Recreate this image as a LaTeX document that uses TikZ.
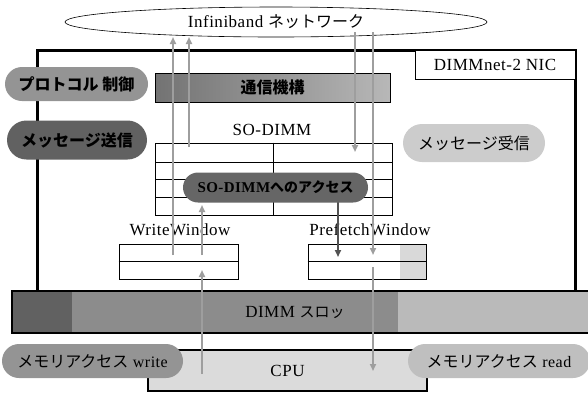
\documentclass[tikz,border=0pt]{standalone}
\usepackage{fontspec}
\setmainfont{Liberation Serif}[LetterSpace=3]
\newfontfamily\jp{Noto Sans CJK JP}
\usetikzlibrary{arrows.meta,shapes.geometric,shapes.misc}
\tikzset{
	lbl/.style={font=\fontsize{17}{20}\selectfont, inner sep=0pt},
	pill/.style={rounded rectangle, draw=none, inner sep=0pt, font=\fontsize{16}{18}\selectfont},
	box/.style={draw, inner sep=0pt, line width=0.8pt},
	flow/.style={line width=2pt, color=black!38, -{Triangle[length=7pt,width=6pt]}},
	darkflow/.style={flow, color=black!68}
}

\begin{document}
\begin{tikzpicture}[x=1pt, y=-1pt]
			%%%%% START %%%%%
			\useasboundingbox (0, 0) rectangle (588, 392);
			
			\node[box, ellipse, fill=white, line width=0.6pt, minimum width=422, minimum height=30, lbl] (net) at (276, 22) {Infiniband {\jp\fontsize{16}{18}\selectfont ネットワーク}};
			
			\node[box, line width=3pt, minimum width=538, minimum height=241] (nic) at (306, 170.5) {};
			\node[box, fill=white, line width=0.6pt, minimum width=160, minimum height=29, lbl] (niclabel) at (495, 64.5) {DIMMnet-2 NIC};
			
			\node[box, left color=black!55, right color=black!28, minimum width=235, minimum height=29] (tsushin) at (272.5, 87.5) {\jp\bfseries\fontsize{16}{18}\selectfont 通信機構};
			
			\node[lbl] (sdlabel) at (272, 130) {SO-DIMM};
			\node[box, fill=white, minimum width=237, minimum height=72] (sodimm) at (273.5, 179) {};
			\foreach \y in {162, 179, 197}
				\draw[line width=0.8pt] (155, \y) -- (392, \y);
			\draw[line width=0.8pt] (sodimm.north) -- (sodimm.south);
			
			\node[lbl] (wwlabel) at (180, 230) {WriteWindow};
			\node[box, fill=white, minimum width=119, minimum height=35] (wwin) at (178.5, 261.5) {};
			\draw[line width=0.8pt] (wwin.west) -- (wwin.east);
			
			\node[lbl] (pwlabel) at (370, 230) {PrefetchWindow};
			\fill[black!15] (400, 244) rectangle (426, 279);
			\node[box, minimum width=118, minimum height=35] (pwin) at (367, 261.5) {};
			\draw[line width=0.8pt] (pwin.west) -- (pwin.east);
			
			\fill[black!62] (12, 291) rectangle (72, 333);
			\fill[black!45] (72, 291) rectangle (398, 333);
			\fill[black!27] (398, 291) rectangle (592, 333);
			\node[box, line width=2pt, minimum width=580, minimum height=42] (slot) at (302, 312) {};
			\node[lbl] (slotlabel) at (295, 312) {DIMM {\jp\fontsize{15}{18}\selectfont スロッ}};
			
			\node[box, fill=black!14, line width=1.8pt, minimum width=279, minimum height=41, lbl] (cpu) at (287.5, 370.5) {CPU};
			
			%% arrow ends
			\coordinate (wwup) at (173, 255);
			\coordinate (netw1) at (173, 37);
			\coordinate (sdup) at (189, 147);
			\coordinate (netw2) at (189, 37);
			\coordinate (netr1) at (355, 32);
			\coordinate (sdin) at (355, 152);
			\coordinate (netr2) at (373, 32);
			\coordinate (pwin1) at (373, 255);
			\coordinate (pwdown) at (373, 267);
			\coordinate (cpuin) at (373, 371);
			\coordinate (cpuup) at (202, 374);
			\coordinate (wwin1) at (202, 270);
			\coordinate (wwout) at (202, 255);
			\coordinate (sdin2) at (202, 205);
			\coordinate (accdown) at (338, 202);
			\coordinate (pwin2) at (338, 257);
			
			\draw[flow] (wwup) -- (netw1);
			\draw[flow] (sdup) -- (netw2);
			\draw[flow] (netr1) -- (sdin);
			\draw[flow] (netr2) -- (pwin1);
			\draw[flow] (pwdown) -- (cpuin);
			\draw[flow] (cpuup) -- (wwin1);
			\draw[flow] (wwout) -- (sdin2);
			\draw[darkflow] (accdown) -- (pwin2);
			
			\node[pill, fill=black!42, minimum width=143, minimum height=34] (proto) at (76.5, 84) {\jp\bfseries プロトコル 制御};
			\node[pill, fill=black!62, minimum width=140, minimum height=39] (send) at (77, 140) {\jp\bfseries メッセージ送信};
			\node[pill, fill=black!20, minimum width=142, minimum height=38] (recv) at (474, 143) {\jp メッセージ受信};
			\node[pill, fill=black!60, minimum width=185, minimum height=30] (access) at (275.5, 187.5) {\fontsize{15}{16}\selectfont\bfseries SO-DIMM{\jp\bfseries\fontsize{14}{16}\selectfont へのアクセス}};
			
			\node[pill, fill=black!42, minimum width=181, minimum height=34] (mwrite) at (92.5, 361) {{\jp メモリアクセス} write};
			\node[pill, fill=black!25, minimum width=182, minimum height=34] (mread) at (499, 361) {{\jp メモリアクセス} read};
			
			%%%%% END %%%%%
\end{tikzpicture}
\end{document}
